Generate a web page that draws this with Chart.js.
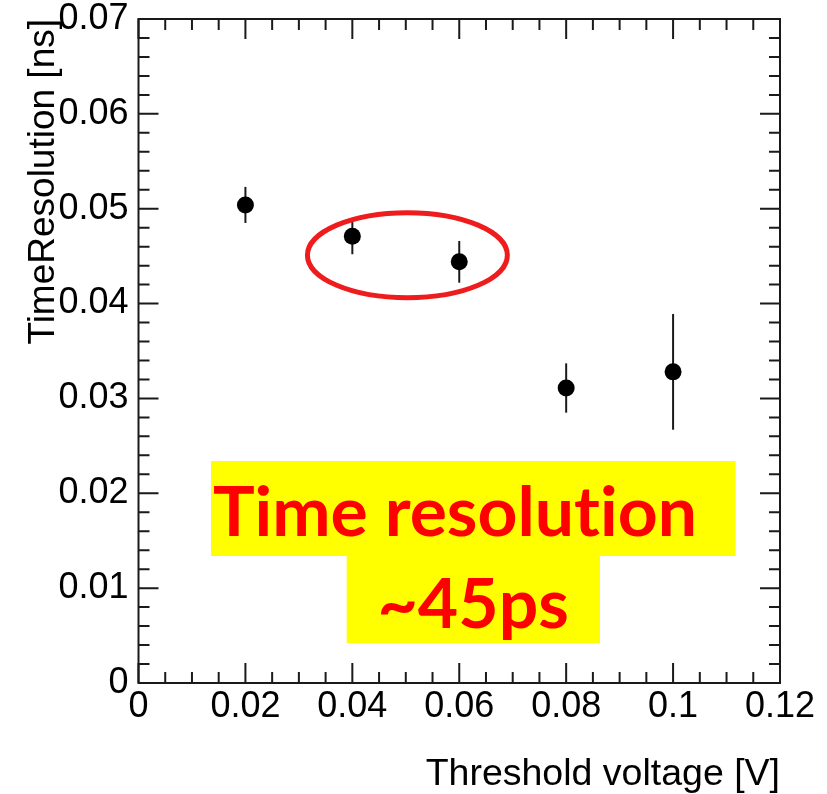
<!DOCTYPE html>
<html>
<head>
<meta charset="utf-8">
<script src="https://cdn.jsdelivr.net/npm/chart.js@4.4.1/dist/chart.umd.min.js"></script>
<style>
html, body { margin: 0; padding: 0; background: #fff; }
</style>
</head>
<body>
<canvas id="resCanvas" width="827" height="794"></canvas>
<script>
// data
var thresholds = [0.02, 0.04, 0.06, 0.08, 0.10];
var resolution = [0.0504, 0.0471, 0.0444, 0.0311, 0.0328];
var resolutionErr = [0.0019, 0.0019, 0.0022, 0.0026, 0.0061];

var xTickValues = [0, 0.02, 0.04, 0.06, 0.08, 0.10, 0.12];
var yTickValues = [0, 0.01, 0.02, 0.03, 0.04, 0.05, 0.06, 0.07];

var AXIS_FONT = 'Liberation Sans';
var INK = '#1a1a1a';

function fmt(v) { return String(+v.toFixed(2)); }

function fixBox(w, h) {
    return function (s) {
        if (w) s.width = w;
        if (h) s.height = h;
        s.paddingLeft = 0; s.paddingRight = 0; s.paddingTop = 0; s.paddingBottom = 0;
    };
}

// draws text piece by piece so Lato's "ti" ligature is not used
function fillNoLig(ctx, parts, x, y) {
    for (var i = 0; i < parts.length; i++) {
        ctx.fillText(parts[i], x, y);
        x += ctx.measureText(parts[i]).width;
    }
}

// inside ticks ROOT style, frame, error bars
var rootFrame = {
    id: 'rootFrame',
    beforeDatasetsDraw: function (chart) {
        var ctx = chart.ctx, xs = chart.scales.x, ys = chart.scales.y;
        ctx.save();
        ctx.strokeStyle = INK;
        ctx.lineWidth = 2;
        for (var i = 0; i < thresholds.length; i++) {
            var px = xs.getPixelForValue(thresholds[i]);
            ctx.beginPath();
            ctx.moveTo(px, ys.getPixelForValue(resolution[i] + resolutionErr[i]));
            ctx.lineTo(px, ys.getPixelForValue(resolution[i] - resolutionErr[i]));
            ctx.stroke();
        }
        ctx.restore();
    },
    afterDraw: function (chart) {
        var ctx = chart.ctx, a = chart.chartArea;
        var xs = chart.scales.x, ys = chart.scales.y;
        ctx.save();
        ctx.strokeStyle = INK;
        ctx.lineWidth = 2;
        ctx.strokeRect(a.left, a.top, a.right - a.left, a.bottom - a.top);
        ctx.beginPath();
        // x ticks: every 0.005, long at 0.02
        for (var k = 0; k <= 24; k++) {
            var v = k * 0.005;
            var len = (k % 4 === 0) ? 20 : 11;
            var px = xs.getPixelForValue(v);
            ctx.moveTo(px, a.bottom); ctx.lineTo(px, a.bottom - len);
            ctx.moveTo(px, a.top); ctx.lineTo(px, a.top + len);
        }
        // y ticks: every 0.002, long at 0.01
        for (var j = 0; j <= 35; j++) {
            var w = j * 0.002;
            var l2 = (j % 5 === 0) ? 20 : 11;
            var py = ys.getPixelForValue(w);
            ctx.moveTo(a.left, py); ctx.lineTo(a.left + l2, py);
            ctx.moveTo(a.right, py); ctx.lineTo(a.right - l2, py);
        }
        ctx.stroke();

        // highlight: yellow boxes with the note
        ctx.fillStyle = '#ffff00';
        function box(x0, y0, x1, y1) {
            var l = xs.getPixelForValue(x0), r = xs.getPixelForValue(x1);
            var t = ys.getPixelForValue(y0), b = ys.getPixelForValue(y1);
            ctx.fillRect(l, t, r - l, b - t);
        }
        box(0.01356, 0.0234, 0.1117, 0.01339);
        box(0.03895, 0.01345, 0.08633, 0.00422);

        ctx.fillStyle = '#ff0000';
        ctx.font = 'bold 69px Lato';
        ctx.textBaseline = 'alphabetic';
        ctx.textAlign = 'left';
        var parts1 = ['Time resolut', 'ion'];
        var w1 = ctx.measureText(parts1[0]).width + ctx.measureText(parts1[1]).width;
        var sx = 484 / w1;
        ctx.save();
        ctx.translate(xs.getPixelForValue(0.01394), ys.getPixelForValue(0.01554));
        ctx.scale(sx, 1);
        fillNoLig(ctx, parts1, 0, 0);
        ctx.restore();
        var t2 = '~45ps';
        ctx.save();
        ctx.translate(xs.getPixelForValue(0.0626), ys.getPixelForValue(0.00579));
        ctx.scale(sx, 1);
        ctx.textAlign = 'center';
        ctx.fillText(t2, 0, 0);
        ctx.restore();

        // red ellipse round the 0.04 and 0.06 points
        var cx = xs.getPixelForValue(0.0503), cy = ys.getPixelForValue(0.0451);
        var rx = xs.getPixelForValue(0.0503 + 0.0187) - cx;
        var ry = cy - ys.getPixelForValue(0.0451 + 0.00448);
        ctx.strokeStyle = '#ee1c1c';
        ctx.lineWidth = 5;
        ctx.beginPath();
        ctx.ellipse(cx, cy, rx, ry, 0, 0, Math.PI * 2);
        ctx.stroke();
        ctx.restore();
    }
};

var ctx0 = document.getElementById('resCanvas');

var resChart = new Chart(ctx0, {
    type: 'scatter',
    data: {
        datasets: [{
            label: 'TimeResolution',
            data: thresholds.map(function (x, i) { return { x: x, y: resolution[i] }; }),
            backgroundColor: '#000',
            borderWidth: 0,
            pointRadius: 8.5,
            pointHoverRadius: 8.5
        }]
    },
    options: {
        responsive: false,
        animation: false,
        devicePixelRatio: 1,
        layout: { autoPadding: false, padding: { left: 0, top: 19, right: 47, bottom: 0 } },
        plugins: { legend: { display: false }, tooltip: { enabled: false } },
        scales: {
            x: {
                type: 'linear', position: 'bottom', min: 0, max: 0.12,
                afterFit: fixBox(0, 111),
                afterBuildTicks: function (s) { s.ticks = xTickValues.map(function (v) { return { value: v }; }); },
                grid: { display: false, drawTicks: false },
                border: { display: false },
                ticks: {
                    autoSkip: false, maxRotation: 0, padding: 6, color: '#000',
                    font: { family: AXIS_FONT, size: 36, lineHeight: 1 },
                    callback: function (v) { return fmt(v); }
                },
                title: {
                    display: true, text: 'Threshold voltage [V]', align: 'end', color: '#000',
                    font: { family: AXIS_FONT, size: 37.5, lineHeight: 1 },
                    padding: { top: 0, bottom: 1 }
                }
            },
            y: {
                type: 'linear', position: 'left', min: 0, max: 0.07,
                afterFit: fixBox(138.5, 0),
                afterBuildTicks: function (s) { s.ticks = yTickValues.map(function (v) { return { value: v }; }); },
                grid: { display: false, drawTicks: false },
                border: { display: false },
                ticks: {
                    autoSkip: false, padding: 10, color: '#000',
                    font: { family: AXIS_FONT, size: 36, lineHeight: 1 },
                    callback: function (v) { return fmt(v); }
                },
                title: {
                    display: true, text: 'TimeResolution [ns]', align: 'end', color: '#000',
                    font: { family: AXIS_FONT, size: 37, lineHeight: 1 },
                    padding: { top: 25, bottom: 0 }
                }
            }
        }
    },
    plugins: [rootFrame]
});
</script>
</body>
</html>
